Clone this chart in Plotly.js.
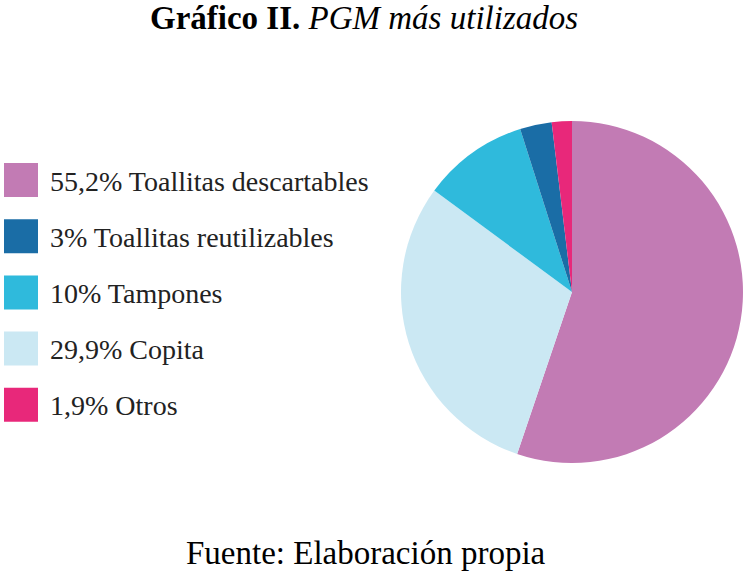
<!DOCTYPE html>
<html>
<head>
<meta charset="utf-8">
<script src="https://cdn.plot.ly/plotly-3.0.1.min.js"></script>
</head>
<body style="margin:0">
<div id="chart"></div>
<script>
// Slices in drawing order (clockwise from 12 o'clock)
const sliceLabels = ['Toallitas descartables', 'Copita', 'Tampones', 'Toallitas reutilizables', 'Otros'];
const sliceValues = [55.2, 29.9, 10, 3, 1.9];
const sliceColors = ['#C27BB4', '#CBE8F3', '#2FBADC', '#1A6DA6', '#E8287A'];

// Legend order as printed on the left
const legendText = ['55,2% Toallitas descartables', '3% Toallitas reutilizables', '10% Tampones', '29,9% Copita', '1,9% Otros'];
const legendColors = ['#C27BB4', '#1A6DA6', '#2FBADC', '#CBE8F3', '#E8287A'];

const W = 752, H = 576;
const SERIF = 'Liberation Serif';

// pixel -> paper helpers
const px = x => x / W;
const py = y => 1 - y / H;

const pie = {
  type: 'pie',
  labels: sliceLabels,
  values: sliceValues,
  marker: { colors: sliceColors, line: { width: 0 } },
  sort: false,
  direction: 'clockwise',
  rotation: 0,
  textinfo: 'none',
  hoverinfo: 'label+percent',
  showlegend: false,
  domain: { x: [px(401), px(743)], y: [py(463), py(121)] }
};

// ── Legend built from shapes + annotations ───────────────────────────────
const shapes = [];
const annotations = [];
const ROW0 = 180, ROW_GAP = 56.2, BOX = 34;
legendText.forEach((t, i) => {
  const cy = ROW0 + i * ROW_GAP;
  shapes.push({
    type: 'rect', xref: 'paper', yref: 'paper',
    x0: px(4), x1: px(4 + BOX), y0: py(cy + BOX / 2), y1: py(cy - BOX / 2),
    fillcolor: legendColors[i], line: { width: 0 }
  });
  annotations.push({
    xref: 'paper', yref: 'paper', x: px(48), y: py(cy + 1),
    xanchor: 'left', yanchor: 'middle', showarrow: false,
    text: t, font: { family: SERIF, size: 28, color: '#222' }
  });
});

// Title and source note
annotations.push({
  xref: 'paper', yref: 'paper', x: px(364), y: py(18),
  xanchor: 'center', yanchor: 'middle', showarrow: false,
  text: '<b>Gráfico II.</b> <i>PGM más utilizados</i>',
  font: { family: SERIF, size: 33, color: '#000' }
});
annotations.push({
  xref: 'paper', yref: 'paper', x: px(366), y: py(553),
  xanchor: 'center', yanchor: 'middle', showarrow: false,
  text: 'Fuente: Elaboración propia',
  font: { family: SERIF, size: 33, color: '#000' }
});

const layout = {
  width: W, height: H,
  margin: { l: 0, r: 0, t: 0, b: 0 },
  font: { family: SERIF },
  paper_bgcolor: '#fff',
  plot_bgcolor: '#fff',
  shapes, annotations
};

Plotly.newPlot('chart', [pie], layout, { displayModeBar: false, staticPlot: true });
</script>
</body>
</html>
